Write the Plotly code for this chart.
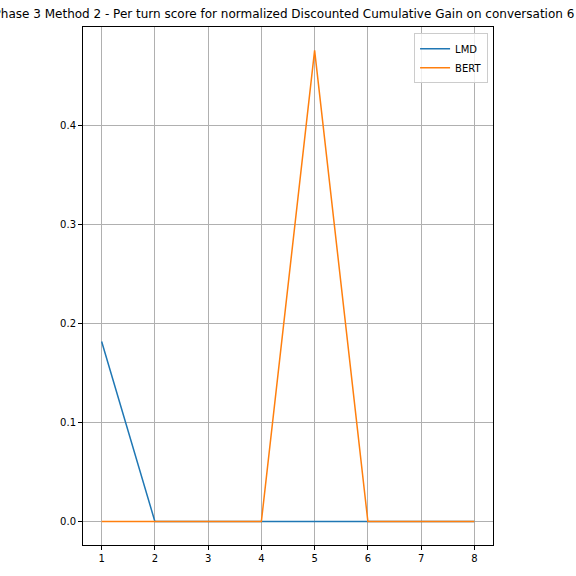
import plotly.graph_objects as go

turns = [1, 2, 3, 4, 5, 6, 7, 8]
lmd_scores = [0.1815, 0, 0, 0, 0, 0, 0, 0]
bert_scores = [0, 0, 0, 0, 0.4754, 0, 0, 0]
y_ticks = [0.0, 0.1, 0.2, 0.3, 0.4]
title_text = "Phase 3 Method 2 - Per turn score for normalized Discounted Cumulative Gain on conversation 6"

fig = go.Figure()
fig.add_trace(go.Scatter(x=turns, y=lmd_scores, mode="lines", name="LMD",
                         line=dict(color="#1f77b4", width=1.5)))
fig.add_trace(go.Scatter(x=turns, y=bert_scores, mode="lines", name="BERT",
                         line=dict(color="#ff7f0e", width=1.5)))

axis_common = dict(showline=True, linecolor="black", linewidth=1, mirror=True,
                   ticks="outside", ticklen=4, tickcolor="black", tickwidth=1,
                   showgrid=True, gridcolor="#b0b0b0", gridwidth=0.8,
                   zeroline=False, tickfont=dict(family="DejaVu Sans", size=10, color="black"))

fig.update_xaxes(range=[0.65, 8.35], tickvals=turns, **axis_common)
fig.update_yaxes(range=[-0.0238, 0.499], tickvals=y_ticks,
                 ticktext=[f"{v:.1f}" for v in y_ticks], **axis_common)

fig.update_layout(
    width=576, height=576,
    margin=dict(l=83, r=83, t=27, b=28),
    plot_bgcolor="white", paper_bgcolor="white",
    title=dict(text=title_text, x=0.493, xanchor="center", xref="container",
               y=1, yref="container", yanchor="top", pad=dict(t=10),
               font=dict(family="DejaVu Sans", size=12, color="black")),
    legend=dict(x=0.988, y=0.988, xanchor="right", yanchor="top",
                bgcolor="rgba(255,255,255,0.8)", bordercolor="#cccccc", borderwidth=1,
                font=dict(family="DejaVu Sans", size=10, color="black"),
                itemwidth=30, tracegroupgap=0),
    showlegend=True,
)

fig.write_html("out.html", config={"displayModeBar": False},
               post_script="document.body.style.margin='0';")
